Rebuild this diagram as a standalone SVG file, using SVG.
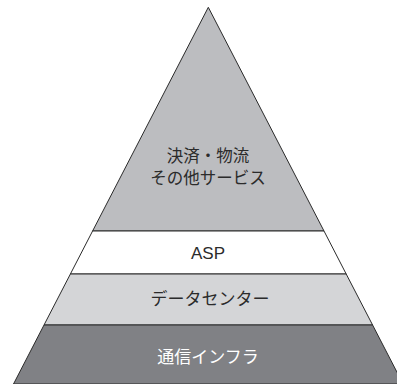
<svg xmlns="http://www.w3.org/2000/svg" width="397" height="384" viewBox="0 0 397 384">
<style>
.edge{stroke:#2b2b2b;stroke-width:1;stroke-linejoin:miter}
.t{font-family:"Noto Sans CJK JP","Liberation Sans",sans-serif;font-size:17px;text-anchor:middle;fill:#2b2b2b}
.s{font-size:16.5px}
.w{fill:#ffffff}
</style>
<rect width="397" height="384" fill="#ffffff"/>
<g id="services">
<polygon class="edge" points="208.3,7.3 324,231 92.6,231" fill="#bcbdc0"/>
<text class="t s" x="208" y="162">決済・物流</text>
<text class="t s" x="208" y="184">その他サービス</text>
</g>
<g id="asp">
<polygon class="edge" points="92.6,231 324,231 346.2,274 70.4,274" fill="#ffffff"/>
<text class="t" x="208" y="259" style="font-family:'Liberation Sans',sans-serif">ASP</text>
</g>
<g id="datacenter">
<polygon class="edge" points="70.4,274 346.2,274 372.6,325 44,325" fill="#d4d5d7"/>
<text class="t" x="210" y="305">データセンター</text>
</g>
<g id="infra">
<polygon class="edge" points="44,325 372.6,325 403.1,384 13.5,384" fill="#808185"/>
<text class="t w" x="208" y="363">通信インフラ</text>
</g>
</svg>
